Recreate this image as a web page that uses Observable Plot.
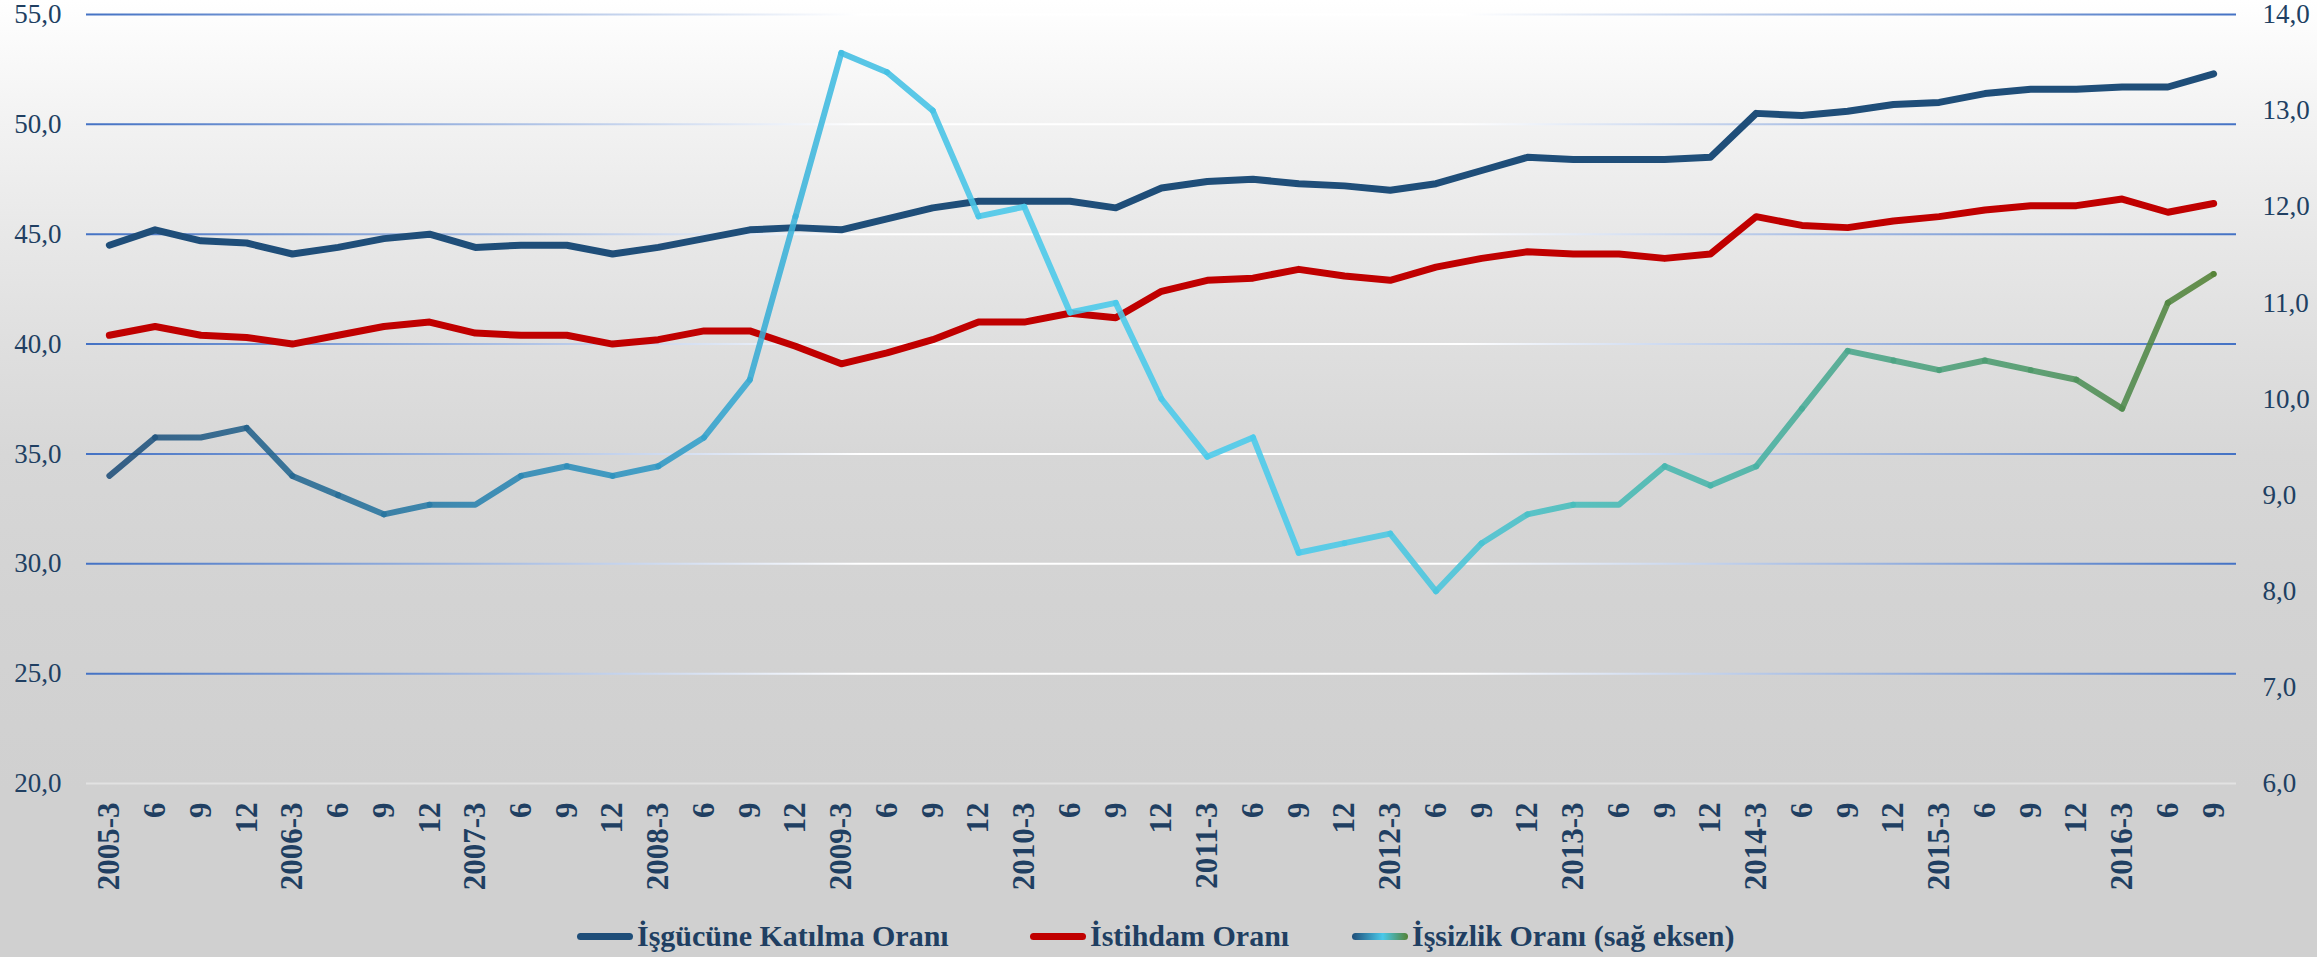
<!DOCTYPE html>
<html>
<head>
<meta charset="utf-8">
<script src="https://cdn.jsdelivr.net/npm/d3@7"></script>
<script src="https://cdn.jsdelivr.net/npm/@observablehq/plot@0.6"></script>
<style>
  html, body { margin: 0; padding: 0; }
  body {
    width: 2317px; height: 957px; overflow: hidden; position: relative;
    background: linear-gradient(to bottom, #ffffff 0px, #f2f2f2 124px, #e8e8e8 234px, #dfdfdf 344px, #d7d7d7 454px, #d3d3d3 600px, #d0d0d0 790px, #d0d0d0 957px);
    font-family: "Liberation Serif", serif;
  }
  #chart { position: absolute; left: 0; top: 0; }
  #chart svg { max-width: none; }
  .item { position: absolute; top: 915px; height: 42px; display: flex; align-items: center; white-space: nowrap; }
  .swatch { width: 56px; height: 7px; border-radius: 4px; }
  .label { margin-left: 4px; font-size: 30px; font-weight: bold; color: #203f62; line-height: 42px; }
</style>
</head>
<body>
<div id="chart"></div>
<div id="legend"></div>
<script>
// ---- data ----
const quarterLabels = [
  "2005-3","6","9","12","2006-3","6","9","12","2007-3","6","9","12",
  "2008-3","6","9","12","2009-3","6","9","12","2010-3","6","9","12",
  "2011-3","6","9","12","2012-3","6","9","12","2013-3","6","9","12",
  "2014-3","6","9","12","2015-3","6","9","12","2016-3","6","9"
];
const laborParticipation = [
  44.5,45.2,44.7,44.6,44.1,44.4,44.8,45.0,44.4,44.5,44.5,44.1,
  44.4,44.8,45.2,45.3,45.2,45.7,46.2,46.5,46.5,46.5,46.2,47.1,
  47.4,47.5,47.3,47.2,47.0,47.3,47.9,48.5,48.4,48.4,48.4,48.5,
  50.5,50.4,50.6,50.9,51.0,51.4,51.6,51.6,51.7,51.7,52.3
];
const employmentRate = [
  40.4,40.8,40.4,40.3,40.0,40.4,40.8,41.0,40.5,40.4,40.4,40.0,
  40.2,40.6,40.6,39.9,39.1,39.6,40.2,41.0,41.0,41.4,41.2,42.4,
  42.9,43.0,43.4,43.1,42.9,43.5,43.9,44.2,44.1,44.1,43.9,44.1,
  45.8,45.4,45.3,45.6,45.8,46.1,46.3,46.3,46.6,46.0,46.4
];
const unemploymentRate = [
  9.2,9.6,9.6,9.7,9.2,9.0,8.8,8.9,8.9,9.2,9.3,9.2,
  9.3,9.6,10.2,11.9,13.6,13.4,13.0,11.9,12.0,10.9,11.0,10.0,
  9.4,9.6,8.4,8.5,8.6,8.0,8.5,8.8,8.9,8.9,9.3,9.1,
  9.3,9.9,10.5,10.4,10.3,10.4,10.3,10.2,9.9,11.0,11.3
];
const leftTicks = [20, 25, 30, 35, 40, 45, 50, 55];
const rightTicks = [6, 7, 8, 9, 10, 11, 12, 13, 14];
const seriesNames = ["İşgücüne Katılma Oranı", "İstihdam Oranı", "İşsizlik Oranı (sağ eksen)"];
const seriesColors = ["#1f4e79", "#c00000"];
// colour stops of the unemployment line, keyed to period index
const unempStops = [
  [0, "#1f4e79"], [4, "#246790"], [8, "#2a82ae"], [12, "#2f98c4"], [16, "#41bde2"],
  [20, "#4ac9ea"], [26, "#4acbeb"], [29, "#4ac6de"], [32, "#47bdbb"], [36, "#47b2a4"],
  [38, "#4aa78c"], [42, "#4d9868"], [44, "#4f8a4d"], [46, "#548235"]
];

// ---- scales mapping ----
const leftDomain = [leftTicks[0], leftTicks[leftTicks.length - 1]];
const rightDomain = [rightTicks[0], rightTicks[rightTicks.length - 1]];
const toLeft = v => leftDomain[0] + (v - rightDomain[0]) * (leftDomain[1] - leftDomain[0]) / (rightDomain[1] - rightDomain[0]);
const toRight = v => rightDomain[0] + (v - leftDomain[0]) * (rightDomain[1] - rightDomain[0]) / (leftDomain[1] - leftDomain[0]);
const fmt = v => (Math.round(v * 10) / 10).toFixed(1).replace(".", ",");

const idx = quarterLabels.map((_, i) => i);
const rows = idx.map(i => ({
  i,
  labor: laborParticipation[i],
  emp: employmentRate[i],
  unemp: toLeft(unemploymentRate[i])
}));

const textColor = "#203f62";
const svg = Plot.plot({
  width: 2317,
  height: 905,
  marginLeft: 86,
  marginRight: 81,
  marginTop: 14,
  marginBottom: 122,
  style: { background: "transparent", color: textColor, fontFamily: "Liberation Serif, serif", overflow: "visible" },
  x: { type: "point", domain: idx, padding: 0.5 },
  y: { domain: leftDomain },
  marks: [
    Plot.ruleY(leftTicks.slice(1), { stroke: "url(#gridGrad)", strokeWidth: 2, ariaLabel: "grid" }),
    Plot.ruleY(leftTicks.slice(0, 1), { stroke: "#e2e2e2", strokeWidth: 2 }),
    Plot.axisY(leftTicks, {
      anchor: "left", tickSize: 0, tickPadding: 25, label: null,
      tickFormat: fmt, fontSize: 27, fill: textColor
    }),
    Plot.axisY(rightTicks.map(toLeft), {
      anchor: "right", tickSize: 0, tickPadding: 26, label: null,
      tickFormat: d => fmt(toRight(d)), fontSize: 27, fill: textColor
    }),
    Plot.axisX(idx, {
      anchor: "bottom", tickSize: 0, tickPadding: 19, tickRotate: -90, label: null,
      tickFormat: i => quarterLabels[i], fontSize: 31, fontWeight: "bold", fill: textColor
    }),
    Plot.line(rows, { x: "i", y: "labor", stroke: seriesColors[0], strokeWidth: 7, strokeLinecap: "round", strokeLinejoin: "round" }),
    Plot.line(rows, { x: "i", y: "emp", stroke: seriesColors[1], strokeWidth: 7, strokeLinecap: "round", strokeLinejoin: "round" }),
    Plot.line(rows, { x: "i", y: "unemp", stroke: "url(#unempGrad)", strokeWidth: 6, strokeOpacity: 0.88, strokeLinecap: "round", strokeLinejoin: "round", ariaLabel: "unemp" })
  ]
});

// gradients defined from the plot's own x scale
const xs = svg.scale("x");
const [x0, x1] = [xs.range[0], xs.range[1]];
const gridStops = `<stop offset="0" stop-color="#4472c4"/><stop offset="0.36" stop-color="#ffffff"/><stop offset="0.64" stop-color="#ffffff"/><stop offset="1" stop-color="#4472c4"/>`;
const ux0 = xs.apply(idx[0]), ux1 = xs.apply(idx[idx.length - 1]);
const unStops = unempStops.map(([i, c]) => `<stop offset="${((xs.apply(i) - ux0) / (ux1 - ux0)).toFixed(4)}" stop-color="${c}"/>`).join("");
const defs = document.createElementNS("http://www.w3.org/2000/svg", "defs");
defs.innerHTML =
  `<linearGradient id="gridGrad" gradientUnits="userSpaceOnUse" x1="${x0}" y1="0" x2="${x1}" y2="0">${gridStops}</linearGradient>` +
  `<linearGradient id="unempGrad" gradientUnits="userSpaceOnUse" x1="${ux0}" y1="0" x2="${ux1}" y2="0">${unStops}</linearGradient>`;
svg.insertBefore(defs, svg.firstChild);
svg.querySelectorAll('g[aria-label="grid"] line').forEach(l => l.setAttribute("stroke", "url(#gridGrad)"));
svg.querySelectorAll('g[aria-label="unemp"] path').forEach(p => p.setAttribute("stroke", "url(#unempGrad)"));
document.getElementById("chart").appendChild(svg);

// legend
const legendLefts = [577, 1030, 1352];
const swatchBg = [
  seriesColors[0],
  seriesColors[1],
  `linear-gradient(to right, ${unempStops[0][1]}, #4ac9ea 55%, ${unempStops[unempStops.length - 1][1]})`
];
const legend = document.getElementById("legend");
seriesNames.forEach((name, k) => {
  const item = document.createElement("div");
  item.className = "item";
  item.style.left = legendLefts[k] + "px";
  const sw = document.createElement("div");
  sw.className = "swatch";
  sw.style.background = swatchBg[k];
  const lab = document.createElement("span");
  lab.className = "label";
  lab.textContent = name;
  item.appendChild(sw);
  item.appendChild(lab);
  legend.appendChild(item);
});
</script>
</body>
</html>
